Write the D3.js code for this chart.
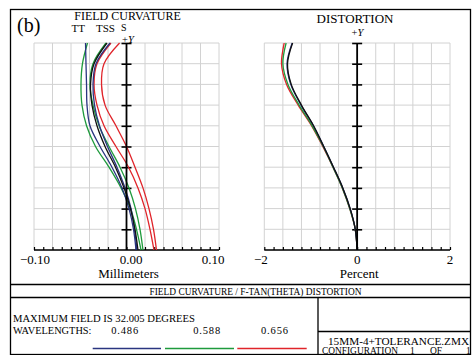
<!DOCTYPE html>
<html><head><meta charset="utf-8">
<script src="https://cdn.jsdelivr.net/npm/d3@7"></script>
<style>html,body{margin:0;padding:0;background:#fff}svg{display:block}</style>
</head><body>
<svg id="c" width="474" height="355" font-family="'Liberation Serif', 'Times New Roman', serif"></svg>
<script>
// ---- data ----
const fields = [0, 0.1, 0.2, 0.3, 0.4, 0.5, 0.6, 0.7, 0.8, 0.9, 1.0];
// field curvature (mm), bottom (field 0) to top (field 1)
const fcRedS   = [0.0324, 0.0292, 0.0243, 0.0178, 0.0092, 0.0000, -0.0114, -0.0232, -0.0270, -0.0243, -0.0075];
const fcRedT   = [0.0297, 0.0254, 0.0200, 0.0124, 0.0022, -0.0114, -0.0243, -0.0319, -0.0351, -0.0319, -0.0168];
const fcGreenS = [0.0178, 0.0146, 0.0097, 0.0027, -0.0070, -0.0189, -0.0297, -0.0362, -0.0395, -0.0362, -0.0222];
const fcGreenT = [0.0157, 0.0108, 0.0043, -0.0059, -0.0189, -0.0335, -0.0432, -0.0481, -0.0492, -0.0476, -0.0422];
const fcBlueS  = [0.0114, 0.0086, 0.0049, -0.0016, -0.0103, -0.0205, -0.0292, -0.0346, -0.0362, -0.0330, -0.0178];
const fcBlueT  = [0.0103, 0.0076, 0.0027, -0.0049, -0.0157, -0.0286, -0.0395, -0.0427, -0.0432, -0.0438, -0.0443];
const fcBlack  = [0.0124, 0.0092, 0.0043, -0.0027, -0.0119, -0.0232, -0.0319, -0.0373, -0.0389, -0.0351, -0.0211];
// distortion (%)
const dRed   = [0, -0.04, -0.16, -0.32, -0.52, -0.74, -0.98, -1.27, -1.52, -1.63, -1.57];
const dGreen = [0, -0.04, -0.16, -0.32, -0.52, -0.73, -0.97, -1.25, -1.49, -1.60, -1.53];
const dBlue  = [0, -0.04, -0.15, -0.31, -0.51, -0.72, -0.94, -1.21, -1.43, -1.51, -1.40];
const dBlack = [0, -0.04, -0.15, -0.31, -0.51, -0.72, -0.94, -1.20, -1.42, -1.50, -1.39];
const fcTicks = [-0.10, 0.00, 0.10];
const fcTickLabels = ["\u22120.10", "0.00", "0.10"];
const dTicks = [-2, 0, 2];
const dTickLabels = ["\u22122", "0", "2"];
const wavelengths = ["0.486", "0.588", "0.656"];
const waveColors = ["#2a3580", "#1e9a3c", "#e0242a"];
const colBlue = "#2a3580", colGreen = "#1e9a3c", colRed = "#e0242a", colBlack = "#111";

// ---- drawing ----
const svg = d3.select("#c");
svg.append("rect").attr("width", 474).attr("height", 355).attr("fill", "#fff");

function panel(x0, x1, domain, minorStep, series, tickVals, tickLabels, labelShift, xlabel) {
  const top = 43, bottom = 250;
  const x = d3.scaleLinear().domain(domain).range([x0, x1]);
  const y = d3.scaleLinear().domain([0, 1]).range([bottom, top]);
  const g = svg.append("g");
  const gridX = d3.range(0, 11).map(i => domain[0] + i * (domain[1] - domain[0]) / 10);
  g.selectAll(".gx").data(gridX).join("line")
    .attr("x1", d => x(d)).attr("x2", d => x(d)).attr("y1", top).attr("y2", bottom)
    .attr("stroke", "#d2d2d2").attr("stroke-width", 1);
  g.selectAll(".gy").data(d3.range(0, 11).map(i => i / 10)).join("line")
    .attr("x1", x0).attr("x2", x1).attr("y1", d => y(d)).attr("y2", d => y(d))
    .attr("stroke", "#d2d2d2").attr("stroke-width", 1);
  const ax = g.append("g").attr("transform", `translate(${x(0)},0)`);
  const yt = d3.range(1, 11).map(i => i / 10);
  ax.call(d3.axisLeft(y).tickValues(yt).tickSize(5).tickFormat(""));
  const ax2 = g.append("g").attr("transform", `translate(${x(0)},0)`);
  ax2.call(d3.axisRight(y).tickValues(yt).tickSize(5).tickFormat(""));
  [ax, ax2].forEach(a => {
    a.select(".domain").remove();
    a.selectAll("line").attr("stroke", "#000").attr("stroke-width", 1.6);
  });
  const minor = d3.range(0, 21).map(i => domain[0] + i * minorStep);
  const bx = g.append("g").attr("transform", `translate(0,${bottom})`)
    .call(d3.axisTop(x).tickValues(minor).tickSize(3).tickSizeOuter(0).tickFormat(""));
  bx.select(".domain").attr("stroke", "#000").attr("stroke-width", 1.6).attr("d", `M${x0},0H${x1}`);
  bx.selectAll("line").attr("stroke", "#000").attr("stroke-width", 1.2);
  const line = d3.line().x(d => x(d[0])).y(d => y(d[1])).curve(d3.curveCatmullRom.alpha(0.5));
  series.forEach(s => {
    g.append("path").datum(s.v.map((v, i) => [v, fields[i]]))
      .attr("d", line).attr("fill", "none").attr("stroke", s.c).attr("stroke-width", 1.3);
  });
  g.append("line").attr("x1", x(0)).attr("x2", x(0)).attr("y1", top).attr("y2", bottom)
    .attr("stroke", "#000").attr("stroke-width", 1.8);
  g.selectAll(".tl").data(tickVals).join("text")
    .attr("x", (d, i) => x(d) + labelShift[i]).attr("y", 263.5).attr("text-anchor", "middle")
    .attr("font-size", 13).text((d, i) => tickLabels[i]);
  g.append("text").attr("x", (x0 + x1) / 2 + 2).attr("y", 277.5).attr("text-anchor", "middle")
    .attr("font-size", 13).text(xlabel);
  return x;
}

panel(34, 219, [-0.1, 0.1], 0.01, [
  {v: fcRedS, c: colRed}, {v: fcRedT, c: colRed},
  {v: fcGreenS, c: colGreen}, {v: fcGreenT, c: colGreen},
  {v: fcBlueT, c: colBlue}, {v: fcBlueS, c: colBlue},
  {v: fcBlack, c: colBlack}
], fcTicks, fcTickLabels, [1, 4.5, -6], "Millimeters");

panel(264.3, 450, [-2, 2], 0.2, [
  {v: dRed, c: colRed}, {v: dGreen, c: colGreen},
  {v: dBlue, c: colBlue}, {v: dBlack, c: colBlack}
], dTicks, dTickLabels, [-3.5, 0, 0], "Percent");

svg.append("text").attr("x", 17).attr("y", 32).attr("font-size", 20).text("(b)");
svg.append("text").attr("x", 127.5).attr("y", 20).attr("text-anchor", "middle").attr("font-size", 12).text("FIELD CURVATURE");
svg.append("text").attr("x", 71.5).attr("y", 32).attr("font-size", 11).text("TT");
svg.append("text").attr("x", 96).attr("y", 32).attr("font-size", 11).text("TSS");
svg.append("text").attr("x", 121).attr("y", 30.5).attr("font-size", 10).text("S");
function plusY(xp, yp) {
  const t = svg.append("text").attr("x", xp).attr("y", yp).attr("font-size", 10.5);
  t.append("tspan").text("+");
  t.append("tspan").attr("font-style", "italic").text("Y");
}
plusY(122, 43);
svg.append("text").attr("x", 355).attr("y", 23).attr("text-anchor", "middle").attr("font-size", 13).text("DISTORTION");
plusY(351.5, 36);

const frame = svg.append("g").attr("stroke", "#000").attr("stroke-width", 1.3).attr("fill", "none");
frame.append("rect").attr("x", 10.5).attr("y", 9.5).attr("width", 460).attr("height", 345);
frame.append("line").attr("x1", 10.5).attr("x2", 470.5).attr("y1", 284.5).attr("y2", 284.5);
frame.append("line").attr("x1", 10.5).attr("x2", 470.5).attr("y1", 297.5).attr("y2", 297.5);
frame.append("line").attr("x1", 318).attr("x2", 318).attr("y1", 297.5).attr("y2", 355);
frame.append("line").attr("x1", 318).attr("x2", 470.5).attr("y1", 331.5).attr("y2", 331.5);

svg.append("text").attr("x", 255.5).attr("y", 295).attr("text-anchor", "middle").attr("font-size", 9.5)
  .attr("textLength", 212).attr("lengthAdjust", "spacingAndGlyphs").text("FIELD CURVATURE / F-TAN(THETA) DISTORTION");
svg.append("text").attr("x", 13).attr("y", 322).attr("font-size", 10.5)
  .attr("textLength", 182).attr("lengthAdjust", "spacingAndGlyphs").text("MAXIMUM FIELD IS 32.005 DEGREES");
svg.append("text").attr("x", 13).attr("y", 333.5).attr("font-size", 10.5)
  .attr("textLength", 78.5).attr("lengthAdjust", "spacingAndGlyphs").text("WAVELENGTHS:");
const wx = [124.7, 206.7, 274.5];
const lx = [[92.7, 161], [165, 234], [237.3, 306.7]];
wavelengths.forEach((w, i) => {
  svg.append("text").attr("x", wx[i]).attr("y", 333.5).attr("text-anchor", "middle").attr("font-size", 10.5)
    .attr("textLength", 27).attr("lengthAdjust", "spacing").text(w);
  svg.append("line").attr("x1", lx[i][0]).attr("x2", lx[i][1]).attr("y1", 348.5).attr("y2", 348.5)
    .attr("stroke", waveColors[i]).attr("stroke-width", 1.5);
});
svg.append("text").attr("x", 328).attr("y", 344.5).attr("font-size", 10)
  .attr("textLength", 141).attr("lengthAdjust", "spacingAndGlyphs").text("15MM-4+TOLERANCE.ZMX");
svg.append("text").attr("x", 322).attr("y", 353.5).attr("font-size", 9.5)
  .attr("textLength", 76).attr("lengthAdjust", "spacingAndGlyphs").text("CONFIGURATION");
svg.append("text").attr("x", 410).attr("y", 353.5).attr("font-size", 9.5).text("1");
svg.append("text").attr("x", 430).attr("y", 353.5).attr("font-size", 9.5).text("OF");
svg.append("text").attr("x", 466).attr("y", 353.5).attr("font-size", 9.5).text("1");
</script>
</body></html>
